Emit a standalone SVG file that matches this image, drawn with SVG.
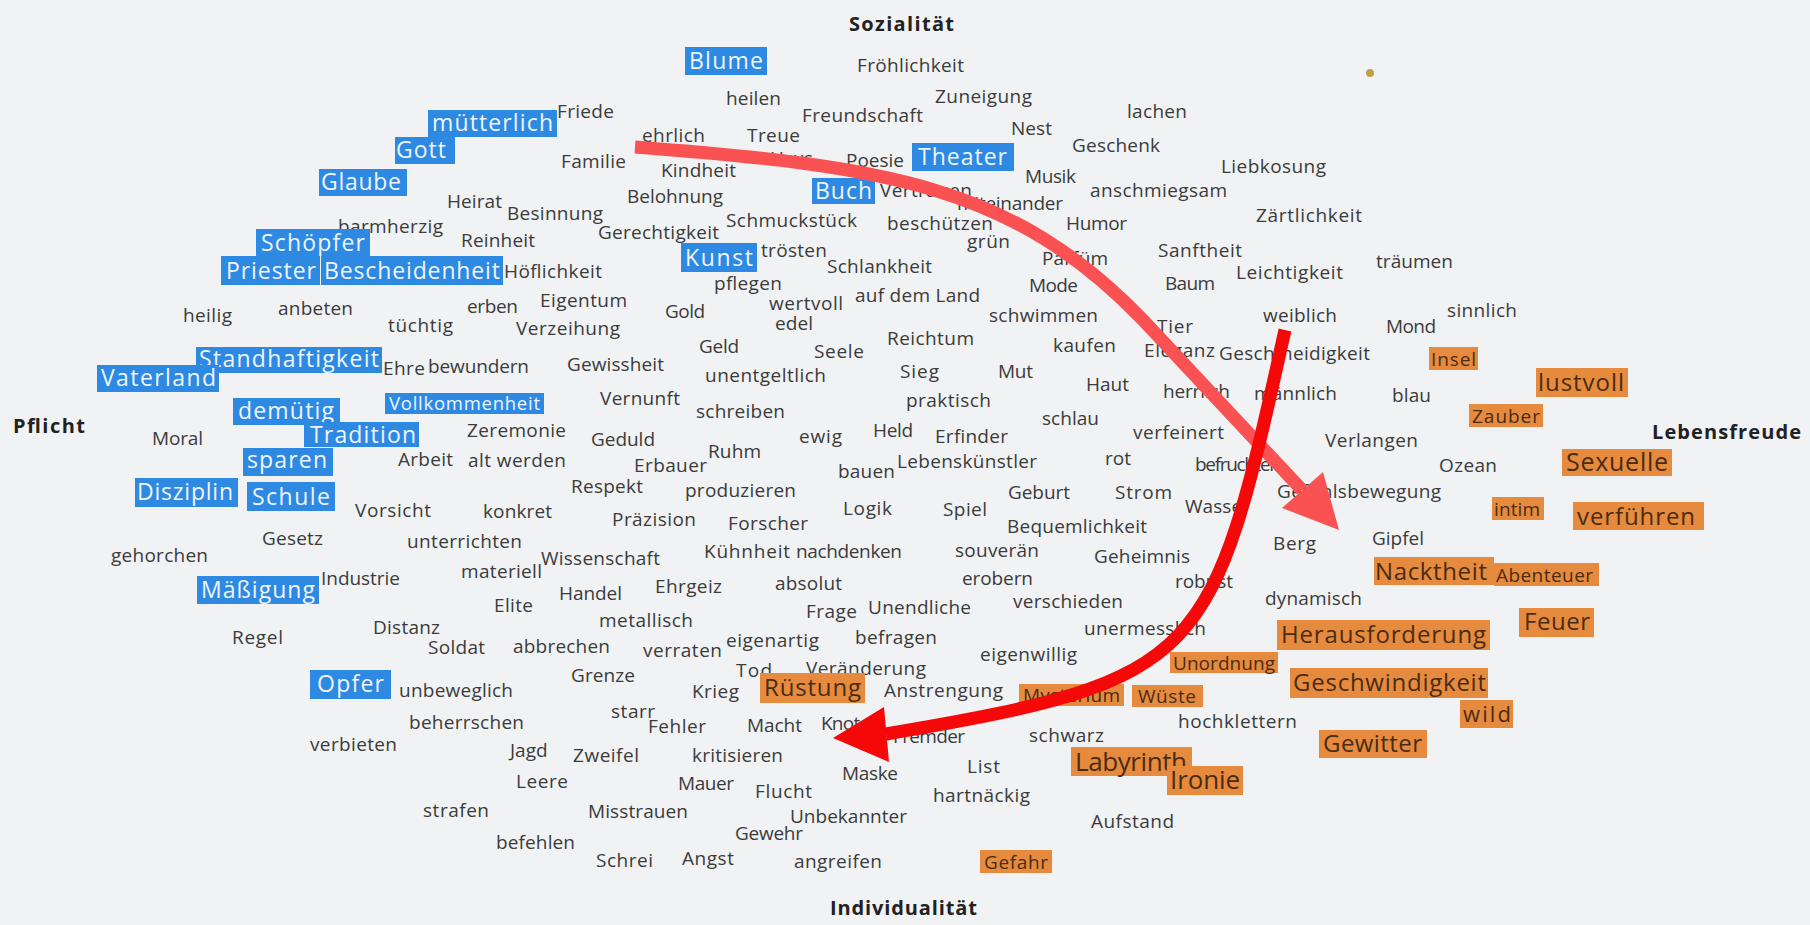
<svg xmlns="http://www.w3.org/2000/svg" width="1810" height="925" viewBox="0 0 1810 925">
<defs>
<style>
.w{font-family:"Open Sans","DejaVu Sans",sans-serif;font-size:19px;fill:#3b3b3b}
.ax{font-family:"Open Sans","DejaVu Sans",sans-serif;font-size:20px;font-weight:bold;fill:#222}
.bb{fill:#2e89e2}
.bt{font-family:"Open Sans","DejaVu Sans",sans-serif;font-size:23px;fill:#eef5fd}
.ob{fill:#e68a3e}
.ot{font-family:"Open Sans","DejaVu Sans",sans-serif;font-size:24px;fill:#4a2c14}
.os{font-size:19px}
</style>
</defs>
<rect width="1810" height="925" fill="#f0f2f4"/>
<circle cx="1370" cy="73" r="4" fill="#b9a24a"/>

<g id="axes">
<text class="ax" x="849" y="31" textLength="105">Sozialität</text>
<text class="ax" x="13" y="433" textLength="72">Pflicht</text>
<text class="ax" x="1652" y="439" textLength="149">Lebensfreude</text>
<text class="ax" x="830" y="915" textLength="147">Individualität</text>
</g>

<g id="words">
<text class="w" x="557" y="118" textLength="57">Friede</text>
<text class="w" x="726" y="105" textLength="55">heilen</text>
<text class="w" x="857" y="72" textLength="107">Fröhlichkeit</text>
<text class="w" x="935" y="103" textLength="97">Zuneigung</text>
<text class="w" x="802" y="122" textLength="121">Freundschaft</text>
<text class="w" x="1127" y="118" textLength="60">lachen</text>
<text class="w" x="1011" y="135" textLength="41">Nest</text>
<text class="w" x="642" y="142" textLength="63">ehrlich</text>
<text class="w" x="747" y="142" textLength="53">Treue</text>
<text class="w" x="770" y="165" textLength="43">Haus</text>
<text class="w" x="846" y="167" textLength="58">Poesie</text>
<text class="w" x="1072" y="152" textLength="88">Geschenk</text>
<text class="w" x="1221" y="173" textLength="105">Liebkosung</text>
<text class="w" x="561" y="168" textLength="65">Familie</text>
<text class="w" x="661" y="177" textLength="75">Kindheit</text>
<text class="w" x="1025" y="183" textLength="51">Musik</text>
<text class="w" x="880" y="197" textLength="92">Vertrauen</text>
<text class="w" x="1090" y="197" textLength="137">anschmiegsam</text>
<text class="w" x="447" y="208" textLength="55">Heirat</text>
<text class="w" x="627" y="203" textLength="96">Belohnung</text>
<text class="w" x="957" y="210" textLength="106">miteinander</text>
<text class="w" x="1256" y="222" textLength="106">Zärtlichkeit</text>
<text class="w" x="507" y="220" textLength="96">Besinnung</text>
<text class="w" x="338" y="233" textLength="105">barmherzig</text>
<text class="w" x="726" y="227" textLength="131">Schmuckstück</text>
<text class="w" x="887" y="230" textLength="106">beschützen</text>
<text class="w" x="1066" y="230" textLength="61">Humor</text>
<text class="w" x="598" y="239" textLength="121">Gerechtigkeit</text>
<text class="w" x="461" y="247" textLength="74">Reinheit</text>
<text class="w" x="967" y="248" textLength="43">grün</text>
<text class="w" x="761" y="257" textLength="66">trösten</text>
<text class="w" x="1158" y="257" textLength="84">Sanftheit</text>
<text class="w" x="1376" y="268" textLength="77">träumen</text>
<text class="w" x="1042" y="265" textLength="66">Parfüm</text>
<text class="w" x="827" y="273" textLength="105">Schlankheit</text>
<text class="w" x="504" y="278" textLength="98">Höflichkeit</text>
<text class="w" x="1236" y="279" textLength="107">Leichtigkeit</text>
<text class="w" x="1165" y="290" textLength="50">Baum</text>
<text class="w" x="1029" y="292" textLength="49">Mode</text>
<text class="w" x="714" y="290" textLength="68">pflegen</text>
<text class="w" x="855" y="302" textLength="125">auf dem Land</text>
<text class="w" x="540" y="307" textLength="87">Eigentum</text>
<text class="w" x="769" y="310" textLength="74">wertvoll</text>
<text class="w" x="467" y="313" textLength="51">erben</text>
<text class="w" x="278" y="315" textLength="75">anbeten</text>
<text class="w" x="183" y="322" textLength="49">heilig</text>
<text class="w" x="665" y="318" textLength="40">Gold</text>
<text class="w" x="1447" y="317" textLength="70">sinnlich</text>
<text class="w" x="989" y="322" textLength="109">schwimmen</text>
<text class="w" x="1263" y="322" textLength="74">weiblich</text>
<text class="w" x="388" y="332" textLength="65">tüchtig</text>
<text class="w" x="516" y="335" textLength="104">Verzeihung</text>
<text class="w" x="775" y="330" textLength="38">edel</text>
<text class="w" x="1157" y="333" textLength="36">Tier</text>
<text class="w" x="1386" y="333" textLength="50">Mond</text>
<text class="w" x="887" y="345" textLength="87">Reichtum</text>
<text class="w" x="699" y="353" textLength="40">Geld</text>
<text class="w" x="1053" y="352" textLength="63">kaufen</text>
<text class="w" x="1144" y="357" textLength="71">Eleganz</text>
<text class="w" x="1219" y="360" textLength="151">Geschmeidigkeit</text>
<text class="w" x="814" y="358" textLength="50">Seele</text>
<text class="w" x="567" y="371" textLength="97">Gewissheit</text>
<text class="w" x="428" y="373" textLength="101">bewundern</text>
<text class="w" x="383" y="375" textLength="42">Ehre</text>
<text class="w" x="900" y="378" textLength="39">Sieg</text>
<text class="w" x="998" y="378" textLength="35">Mut</text>
<text class="w" x="705" y="382" textLength="121">unentgeltlich</text>
<text class="w" x="1086" y="391" textLength="43">Haut</text>
<text class="w" x="1163" y="398" textLength="67">herrlich</text>
<text class="w" x="1254" y="400" textLength="83">männlich</text>
<text class="w" x="1392" y="402" textLength="39">blau</text>
<text class="w" x="600" y="405" textLength="80">Vernunft</text>
<text class="w" x="906" y="407" textLength="85">praktisch</text>
<text class="w" x="696" y="418" textLength="89">schreiben</text>
<text class="w" x="1042" y="425" textLength="57">schlau</text>
<text class="w" x="873" y="437" textLength="40">Held</text>
<text class="w" x="467" y="437" textLength="99">Zeremonie</text>
<text class="w" x="1133" y="439" textLength="91">verfeinert</text>
<text class="w" x="935" y="443" textLength="73">Erfinder</text>
<text class="w" x="799" y="443" textLength="43">ewig</text>
<text class="w" x="152" y="445" textLength="51">Moral</text>
<text class="w" x="591" y="446" textLength="64">Geduld</text>
<text class="w" x="1325" y="447" textLength="93">Verlangen</text>
<text class="w" x="708" y="458" textLength="53">Ruhm</text>
<text class="w" x="1105" y="465" textLength="26">rot</text>
<text class="w" x="398" y="466" textLength="55">Arbeit</text>
<text class="w" x="468" y="467" textLength="98">alt werden</text>
<text class="w" x="897" y="468" textLength="140">Lebenskünstler</text>
<text class="w" x="1195" y="471" textLength="86">befruchten</text>
<text class="w" x="634" y="472" textLength="73">Erbauer</text>
<text class="w" x="1439" y="472" textLength="58">Ozean</text>
<text class="w" x="838" y="478" textLength="57">bauen</text>
<text class="w" x="571" y="493" textLength="72">Respekt</text>
<text class="w" x="685" y="497" textLength="111">produzieren</text>
<text class="w" x="1277" y="498" textLength="164">Gefühlsbewegung</text>
<text class="w" x="1008" y="499" textLength="62">Geburt</text>
<text class="w" x="1115" y="499" textLength="57">Strom</text>
<text class="w" x="1185" y="513" textLength="65">Wasser</text>
<text class="w" x="843" y="515" textLength="49">Logik</text>
<text class="w" x="943" y="516" textLength="44">Spiel</text>
<text class="w" x="355" y="517" textLength="76">Vorsicht</text>
<text class="w" x="483" y="518" textLength="69">konkret</text>
<text class="w" x="612" y="526" textLength="84">Präzision</text>
<text class="w" x="728" y="530" textLength="80">Forscher</text>
<text class="w" x="1007" y="533" textLength="140">Bequemlichkeit</text>
<text class="w" x="1372" y="545" textLength="52">Gipfel</text>
<text class="w" x="262" y="545" textLength="61">Gesetz</text>
<text class="w" x="407" y="548" textLength="115">unterrichten</text>
<text class="w" x="1273" y="550" textLength="43">Berg</text>
<text class="w" x="955" y="557" textLength="84">souverän</text>
<text class="w" x="704" y="558" textLength="86">Kühnheit</text>
<text class="w" x="796" y="558" textLength="106">nachdenken</text>
<text class="w" x="111" y="562" textLength="97">gehorchen</text>
<text class="w" x="1094" y="563" textLength="96">Geheimnis</text>
<text class="w" x="541" y="565" textLength="119">Wissenschaft</text>
<text class="w" x="461" y="578" textLength="81">materiell</text>
<text class="w" x="321" y="585" textLength="79">Industrie</text>
<text class="w" x="962" y="585" textLength="71">erobern</text>
<text class="w" x="1175" y="588" textLength="58">robust</text>
<text class="w" x="775" y="590" textLength="67">absolut</text>
<text class="w" x="655" y="593" textLength="67">Ehrgeiz</text>
<text class="w" x="559" y="600" textLength="63">Handel</text>
<text class="w" x="1265" y="605" textLength="97">dynamisch</text>
<text class="w" x="1013" y="608" textLength="110">verschieden</text>
<text class="w" x="494" y="612" textLength="39">Elite</text>
<text class="w" x="868" y="614" textLength="103">Unendliche</text>
<text class="w" x="806" y="618" textLength="51">Frage</text>
<text class="w" x="599" y="627" textLength="94">metallisch</text>
<text class="w" x="373" y="634" textLength="67">Distanz</text>
<text class="w" x="1084" y="635" textLength="122">unermesslich</text>
<text class="w" x="232" y="644" textLength="51">Regel</text>
<text class="w" x="855" y="644" textLength="82">befragen</text>
<text class="w" x="726" y="647" textLength="93">eigenartig</text>
<text class="w" x="513" y="653" textLength="97">abbrechen</text>
<text class="w" x="428" y="654" textLength="57">Soldat</text>
<text class="w" x="643" y="657" textLength="79">verraten</text>
<text class="w" x="980" y="661" textLength="97">eigenwillig</text>
<text class="w" x="806" y="675" textLength="120">Veränderung</text>
<text class="w" x="736" y="677" textLength="36">Tod</text>
<text class="w" x="571" y="682" textLength="64">Grenze</text>
<text class="w" x="399" y="697" textLength="114">unbeweglich</text>
<text class="w" x="884" y="697" textLength="119">Anstrengung</text>
<text class="w" x="692" y="698" textLength="47">Krieg</text>
<text class="w" x="611" y="718" textLength="44">starr</text>
<text class="w" x="1178" y="728" textLength="119">hochklettern</text>
<text class="w" x="409" y="729" textLength="115">beherrschen</text>
<text class="w" x="821" y="730" textLength="60">Knoten</text>
<text class="w" x="747" y="732" textLength="55">Macht</text>
<text class="w" x="648" y="733" textLength="58">Fehler</text>
<text class="w" x="1029" y="742" textLength="75">schwarz</text>
<text class="w" x="893" y="743" textLength="72">Fremder</text>
<text class="w" x="310" y="751" textLength="87">verbieten</text>
<text class="w" x="510" y="757">Jagd</text>
<text class="w" x="573" y="762" textLength="66">Zweifel</text>
<text class="w" x="692" y="762" textLength="91">kritisieren</text>
<text class="w" x="967" y="773" textLength="33">List</text>
<text class="w" x="842" y="780" textLength="56">Maske</text>
<text class="w" x="516" y="788" textLength="52">Leere</text>
<text class="w" x="678" y="790" textLength="56">Mauer</text>
<text class="w" x="755" y="798" textLength="57">Flucht</text>
<text class="w" x="933" y="802" textLength="97">hartnäckig</text>
<text class="w" x="423" y="817" textLength="66">strafen</text>
<text class="w" x="588" y="818" textLength="100">Misstrauen</text>
<text class="w" x="790" y="823" textLength="117">Unbekannter</text>
<text class="w" x="1091" y="828" textLength="83">Aufstand</text>
<text class="w" x="735" y="840" textLength="68">Gewehr</text>
<text class="w" x="496" y="849" textLength="79">befehlen</text>
<text class="w" x="794" y="868" textLength="88">angreifen</text>
<text class="w" x="682" y="865" textLength="52">Angst</text>
<text class="w" x="596" y="867" textLength="57">Schrei</text>
</g>

<g id="blue-tags">
<rect class="bb" x="685" y="47" width="82" height="28"/><text class="bt" x="689" y="69" textLength="74">Blume</text>
<rect class="bb" x="428" y="110" width="129" height="27"/><text class="bt" x="432" y="131" textLength="121">mütterlich</text>
<rect class="bb" x="395" y="137" width="60" height="27"/><text class="bt" x="396" y="158" textLength="50">Gott</text>
<rect class="bb" x="319" y="169" width="88" height="27"/><text class="bt" x="321" y="190" textLength="80">Glaube</text>
<rect class="bb" x="912" y="143" width="102" height="28"/><text class="bt" x="918" y="165" textLength="89">Theater</text>
<rect class="bb" x="812" y="178" width="63" height="26"/><text class="bt" x="815" y="199" textLength="57">Buch</text>
<rect class="bb" x="256" y="229" width="114" height="28"/><text class="bt" x="261" y="251" textLength="104">Schöpfer</text>
<rect class="bb" x="221" y="256" width="99" height="29"/><text class="bt" x="226" y="279" textLength="90">Priester</text>
<rect class="bb" x="321" y="256" width="182" height="29"/><text class="bt" x="324" y="279" textLength="176">Bescheidenheit</text>
<rect class="bb" x="681" y="243" width="76" height="29"/><text class="bt" x="685" y="266" textLength="68">Kunst</text>
<rect class="bb" x="196" y="347" width="186" height="26"/><text class="bt" x="199" y="367" textLength="180">Standhaftigkeit</text>
<rect class="bb" x="97" y="365" width="122" height="27"/><text class="bt" x="101" y="386" textLength="115">Vaterland</text>
<rect class="bb" x="385" y="393" width="159" height="21"/><text class="bt" x="389" y="410" textLength="151" style="font-size:18.5px">Vollkommenheit</text>
<rect class="bb" x="233" y="398" width="107" height="27"/><text class="bt" x="238" y="419" textLength="96">demütig</text>
<rect class="bb" x="304" y="422" width="115" height="25"/><text class="bt" x="310" y="443" textLength="106">Tradition</text>
<rect class="bb" x="243" y="448" width="90" height="28"/><text class="bt" x="247" y="468" textLength="80">sparen</text>
<rect class="bb" x="135" y="478" width="103" height="29"/><text class="bt" x="137" y="500" textLength="96">Disziplin</text>
<rect class="bb" x="247" y="482" width="88" height="29"/><text class="bt" x="252" y="505" textLength="78">Schule</text>
<rect class="bb" x="197" y="576" width="122" height="28"/><text class="bt" x="201" y="598" textLength="114">Mäßigung</text>
<rect class="bb" x="310" y="670" width="81" height="29"/><text class="bt" x="317" y="692" textLength="67">Opfer</text>
</g>

<g id="orange-tags">
<rect class="ob" x="1429" y="347" width="49" height="23"/><text class="ot os" x="1431" y="366" textLength="45">Insel</text>
<rect class="ob" x="1536" y="368" width="92" height="29"/><text class="ot" x="1538" y="391" textLength="86">lustvoll</text>
<rect class="ob" x="1469" y="404" width="74" height="23"/><text class="ot os" x="1472" y="423" textLength="68">Zauber</text>
<rect class="ob" x="1562" y="449" width="110" height="27"/><text class="ot" x="1566" y="471" textLength="102" style="font-size:25px">Sexuelle</text>
<rect class="ob" x="1492" y="497" width="52" height="23"/><text class="ot os" x="1494" y="516" textLength="46">intim</text>
<rect class="ob" x="1573" y="502" width="131" height="28"/><text class="ot" x="1577" y="525" textLength="118">verführen</text>
<rect class="ob" x="1374" y="557" width="120" height="28"/><text class="ot" x="1375" y="580" textLength="112">Nacktheit</text>
<rect class="ob" x="1494" y="563" width="105" height="23"/><text class="ot" x="1496" y="582" textLength="97" style="font-size:19px">Abenteuer</text>
<rect class="ob" x="1519" y="608" width="75" height="29"/><text class="ot" x="1524" y="630" textLength="66">Feuer</text>
<rect class="ob" x="1277" y="620" width="213" height="30"/><text class="ot" x="1281" y="643" textLength="205">Herausforderung</text>
<rect class="ob" x="1170" y="652" width="108" height="21"/><text class="ot" x="1173" y="670" textLength="102" style="font-size:19px">Unordnung</text>
<rect class="ob" x="1290" y="668" width="198" height="30"/><text class="ot" x="1293" y="691" textLength="193">Geschwindigkeit</text>
<rect class="ob" x="760" y="673" width="105" height="30"/><text class="ot" x="764" y="696" textLength="97">Rüstung</text>
<rect class="ob" x="1019" y="684" width="105" height="22"/><text class="ot" x="1023" y="702" textLength="97" style="font-size:19px">Mysterium</text>
<rect class="ob" x="1132" y="685" width="71" height="22"/><text class="ot" x="1138" y="703" textLength="58" style="font-size:19px">Wüste</text>
<rect class="ob" x="1460" y="700" width="53" height="28"/><text class="ot" x="1463" y="722" textLength="48" style="font-size:22px">wild</text>
<rect class="ob" x="1319" y="730" width="108" height="28"/><text class="ot" x="1323" y="752" textLength="99">Gewitter</text>
<rect class="ob" x="1071" y="747" width="121" height="29"/><text class="ot" x="1075" y="771" textLength="112" style="font-size:26px">Labyrinth</text>
<rect class="ob" x="1167" y="766" width="76" height="29"/><text class="ot" x="1170" y="789" textLength="70" style="font-size:26px">Ironie</text>
<rect class="ob" x="980" y="850" width="72" height="23"/><text class="ot os" x="984" y="869" textLength="64">Gefahr</text>
</g>

<g id="connectors">
<path d="M635,147 C885,166 1013,185 1143,320 L1302,490" fill="none" stroke="#fa5252" stroke-width="13"/>
<polygon points="1339,530 1282,508 1323,472" fill="#fa5252"/>
<path d="M1285,330 C1212,660 1206,680 886,734" fill="none" stroke="#f50808" stroke-width="13"/>
<polygon points="833,738 884,707 889,762" fill="#f50808"/>
</g>
</svg>
